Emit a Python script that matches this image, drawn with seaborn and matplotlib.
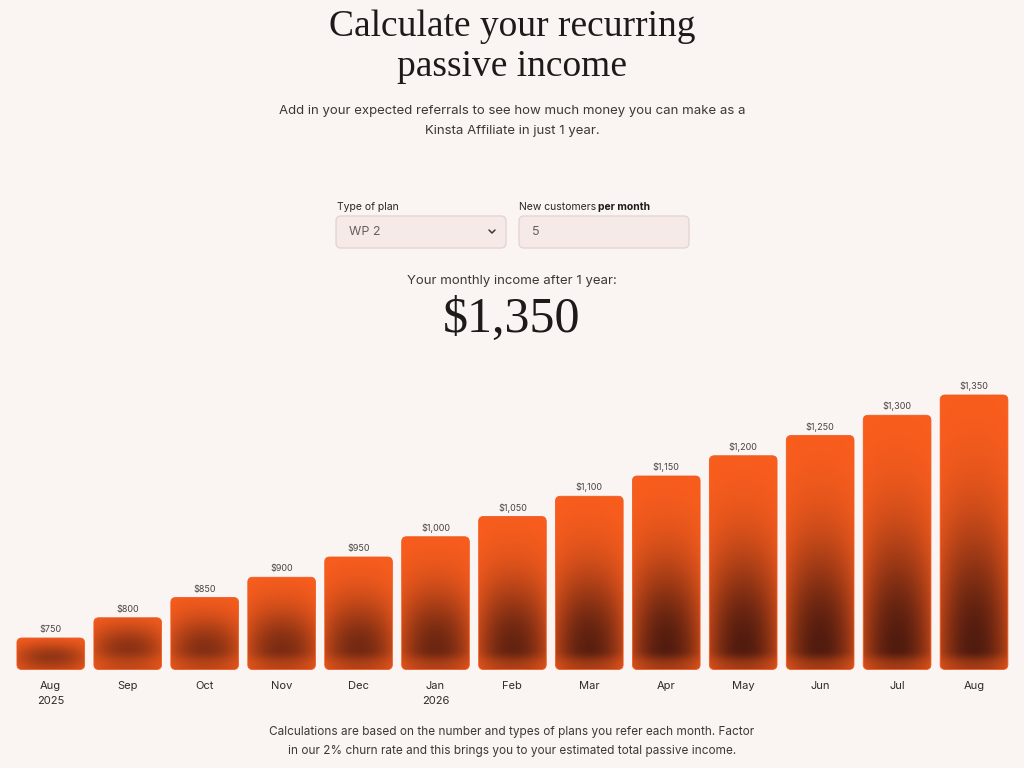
import numpy as np
import pandas as pd
import matplotlib
matplotlib.use("Agg")
import matplotlib.pyplot as plt
import seaborn as sns
from matplotlib.patches import FancyBboxPatch

months = ["Aug\n2025", "Sep", "Oct", "Nov", "Dec", "Jan\n2026", "Feb", "Mar",
          "Apr", "May", "Jun", "Jul", "Aug"]
income = [750, 800, 850, 900, 950, 1000, 1050, 1100, 1150, 1200, 1250, 1300, 1350]
value_labels = ["$750", "$800", "$850", "$900", "$950", "$1,000", "$1,050", "$1,100",
                "$1,150", "$1,200", "$1,250", "$1,300", "$1,350"]

BG = "#faf5f3"
SANS = ["Inter", "DejaVu Sans"]
SERIF = ["Liberation Serif", "DejaVu Serif"]

sns.set_theme(style="white")
plt.rcParams["font.family"] = SANS

W, H = 1024, 768
fig = plt.figure(figsize=(W / 100, H / 100), dpi=100, facecolor=BG)

# overlay axes in pixel coordinates for page text / form
ov = fig.add_axes([0, 0, 1, 1], zorder=0)
ov.set_xlim(0, W)
ov.set_ylim(H, 0)
ov.axis("off")
ov.patch.set_alpha(0)

ov.text(512, 27, "Calculate your recurring", ha="center", va="center",
        fontsize=27, family=SERIF, color="#1e1a19")
ov.text(512, 67, "passive income", ha="center", va="center",
        fontsize=27, family=SERIF, color="#1e1a19")
ov.text(512, 111, "Add in your expected referrals to see how much money you can make as a",
        ha="center", va="center", fontsize=9.5, color="#3d3735")
ov.text(512, 131, "Kinsta Affiliate in just 1 year.", ha="center", va="center",
        fontsize=9.5, color="#3d3735")

# form
ov.text(337, 207, "Type of plan", ha="left", va="center", fontsize=7.5, color="#2b2624")
ov.text(519, 207, "New customers", ha="left", va="center", fontsize=7.5, color="#2b2624")
ov.text(598, 207, "per month", ha="left", va="center", fontsize=7.5, color="#1e1a19",
        fontweight="bold")
for x0, x1 in [(336, 506), (519, 689)]:
    box = FancyBboxPatch((x0, 216), x1 - x0, 32, boxstyle="round,pad=0,rounding_size=5",
                         facecolor="#f5eae7", edgecolor="#e6d5d0", linewidth=1)
    ov.add_patch(box)
ov.text(349, 232, "WP 2", ha="left", va="center", fontsize=9, color="#6b5f5c")
ov.text(532, 232, "5", ha="left", va="center", fontsize=9, color="#6b5f5c")
ov.plot([489, 492, 495], [230, 233, 230], color="#3d3735", lw=1.1, solid_capstyle="round")

ov.text(512, 281, "Your monthly income after 1 year:", ha="center", va="center",
        fontsize=9.5, color="#3d3735")
ov.text(512, 320, "$1,350", ha="center", va="center", fontsize=36, family=SERIF,
        color="#1e1a19")

ov.text(512, 732, "Calculations are based on the number and types of plans you refer each month. Factor",
        ha="center", va="center", fontsize=8.5, color="#3d3735")
ov.text(512, 751, "in our 2% churn rate and this brings you to your estimated total passive income.",
        ha="center", va="center", fontsize=8.5, color="#3d3735")

# chart axes
left_px, right_px = 12.3, 1012.5
bottom_px, top_px = 670, 370
ax = fig.add_axes([left_px / W, 1 - bottom_px / H, (right_px - left_px) / W,
                   (bottom_px - top_px) / H], zorder=1)
ax.patch.set_alpha(0)

df = pd.DataFrame({"month": months, "income": income})
sns.barplot(data=df, x="month", y="income", ax=ax, width=0.88, color="#f05a1e",
            saturation=1)
y0 = 671
ax.set_ylim(y0, y0 + (bottom_px - top_px) / 0.405)
ax.set_xlim(-0.5, len(months) - 0.5)
for s in ax.spines.values():
    s.set_visible(False)
ax.set_yticks([])
ax.set_xlabel("")
ax.set_ylabel("")
ax.tick_params(axis="x", length=0, pad=8, labelsize=8, labelcolor="#2f2a28")
for lab in ax.get_xticklabels():
    lab.set_linespacing(1.6)

fig.canvas.draw()
px_per_x = ax.transData.transform((1, 0))[0] - ax.transData.transform((0, 0))[0]
px_per_y = ax.transData.transform((0, 1))[1] - ax.transData.transform((0, 0))[1]
aspect = (1 / px_per_y) / (1 / px_per_x)

top_c = np.array([251, 94, 30]) / 255
dark_c = np.array([72, 24, 14]) / 255

for bar, lbl in zip(ax.patches, value_labels):
    bx, bw, bh = bar.get_x(), bar.get_width(), bar.get_height()
    bar.set_visible(False)
    hpx = max(int(round((bh - y0) * px_per_y)), 2)
    wpx = max(int(round(bw * px_per_x)), 2)
    d = np.arange(hpx)[::-1][:, None] + 0.5  # distance from bottom (row 0 = top)
    u = (np.arange(wpx) + 0.5)[None, :] / wpx
    d0 = 20.0 if hpx > 60 else hpx * 0.4
    s_up = max(0.45 * hpx, 12)
    v = np.where(d >= d0, np.exp(-((d - d0) / s_up) ** 2),
                 0.5 + 0.5 * np.exp(-((d0 - d) / 10) ** 2))
    wgt = 1 - 0.6 * (2 * u - 1) ** 2
    maxdark = 0.5 + 0.45 * min(1.0, hpx / 200)
    k = np.clip(v * wgt * maxdark, 0, 1)
    img = top_c[None, None, :] * (1 - k[..., None]) + dark_c[None, None, :] * k[..., None]
    patch = FancyBboxPatch((bx, y0 + 0.5 / px_per_y), bw, bh - y0 - 0.5 / px_per_y,
                           boxstyle=f"round,pad=0,rounding_size={5 / px_per_x}",
                           mutation_aspect=aspect, facecolor="none",
                           edgecolor="#ef5b22", linewidth=0.6, zorder=3)
    ax.add_patch(patch)
    im = ax.imshow(img, extent=[bx, bx + bw, y0, bh], aspect="auto",
                   interpolation="bilinear", zorder=2)
    im.set_clip_path(patch)
    ax.text(bx + bw / 2, bh + 4 / px_per_y, lbl, ha="center", va="bottom",
            fontsize=6.5, color="#4a4341")

ax.set_xlim(-0.5, len(months) - 0.5)
ax.set_ylim(y0, y0 + (bottom_px - top_px) / 0.405)

fig.savefig("out.png", dpi=100, facecolor=BG)
